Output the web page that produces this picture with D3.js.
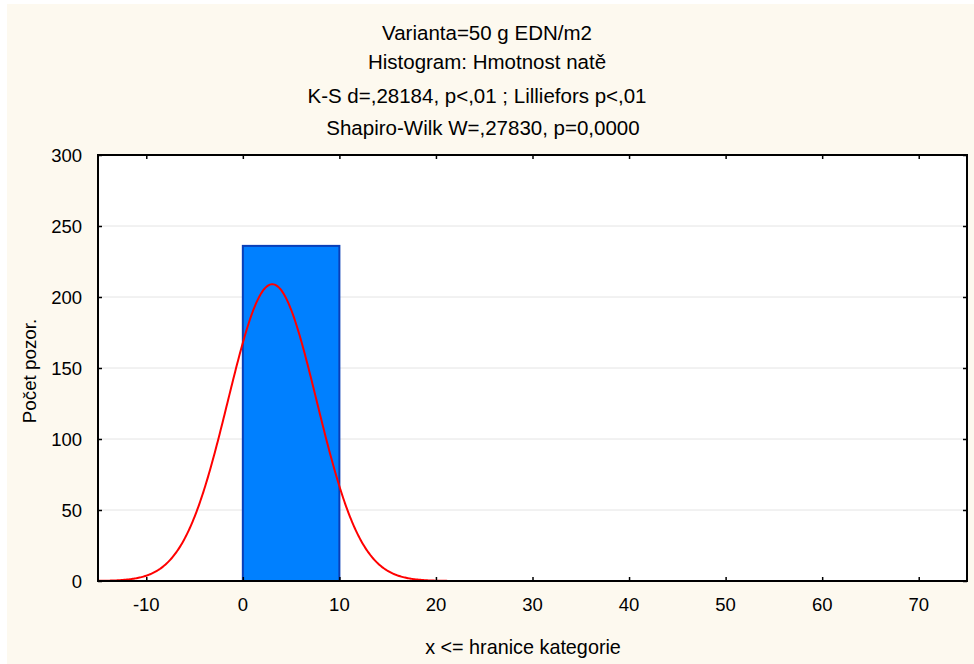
<!DOCTYPE html>
<html>
<head>
<meta charset="utf-8">
<script src="https://cdn.jsdelivr.net/npm/d3@7"></script>
<style>
  html, body { margin: 0; padding: 0; background: #ffffff; }
  svg { display: block; }
  text { font-family: "Liberation Sans", Arial, Helvetica, sans-serif; fill: #000; }
</style>
</head>
<body>
<svg id="chart" width="974" height="664"></svg>
<script>
// ---- data ----
const titleLines = [
  "Varianta=50 g EDN/m2",
  "Histogram: Hmotnost natě",
  "K-S d=,28184, p<,01 ; Lilliefors p<,01",
  "Shapiro-Wilk W=,27830, p=0,0000"
];
const binStarts = [0];          // histogram bin lower bounds (x <= upper bound)
const binEnds   = [10];
const binCounts = [236];
const xTicks = [-10, 0, 10, 20, 30, 40, 50, 60, 70];
const yTicks = [0, 50, 100, 150, 200, 250, 300];
const xDomain = [-15, 75];
const yDomain = [0, 300];
// fitted normal curve parameters (expected counts per bin)
const fitMean = 3.05;
const fitSD = 4.6;
const fitN = 241;
const binWidth = 10;
const xLabel = "x <= hranice kategorie";
const yLabel = "Počet pozor.";

// ---- layout ----
const W = 974, H = 664;
const plot = { left: 98, right: 967, top: 155, bottom: 581 };
const svg = d3.select("#chart");

svg.append("rect").attr("x", 7).attr("y", 4).attr("width", W - 7).attr("height", H - 4)
  .attr("fill", "#fdf9ef");
svg.append("rect").attr("x", plot.left).attr("y", plot.top)
  .attr("width", plot.right - plot.left).attr("height", plot.bottom - plot.top)
  .attr("fill", "#ffffff");

const x = d3.scaleLinear().domain(xDomain).range([plot.left, plot.right]);
const y = d3.scaleLinear().domain(yDomain).range([plot.bottom, plot.top]);

// grid
svg.append("g").selectAll("line").data(yTicks.filter(t => t > 0 && t < 300)).join("line")
  .attr("x1", plot.left).attr("x2", plot.right)
  .attr("y1", d => y(d)).attr("y2", d => y(d))
  .attr("stroke", "#e4e4e4").attr("stroke-width", 1);

// bars
const bins = binStarts.map((s, i) => ({ x0: s, x1: binEnds[i], n: binCounts[i] }));
svg.append("g").selectAll("rect").data(bins).join("rect")
  .attr("x", d => x(d.x0)).attr("y", d => y(d.n))
  .attr("width", d => x(d.x1) - x(d.x0)).attr("height", d => y(0) - y(d.n))
  .attr("fill", "#0080ff").attr("stroke", "#0a3fb8").attr("stroke-width", 2);

// normal curve
const xs = d3.range(xDomain[0], xDomain[1] + 0.001, 0.1);
const curve = xs.map(v => [v, fitN * binWidth / (fitSD * Math.sqrt(2 * Math.PI)) *
  Math.exp(-((v - fitMean) ** 2) / (2 * fitSD * fitSD))]);
svg.append("path").datum(curve)
  .attr("d", d3.line().x(d => x(d[0])).y(d => y(d[1])).curve(d3.curveLinear))
  .attr("fill", "none").attr("stroke", "#ff0000").attr("stroke-width", 2);

// axes (ticks inward)
const tickLen = 4;
const axisG = svg.append("g");
axisG.append("g").attr("transform", `translate(0,${plot.bottom})`)
  .call(d3.axisTop(x).tickValues(xTicks).tickSize(tickLen).tickFormat(""))
  .call(g => g.select(".domain").remove());
axisG.append("g").attr("transform", `translate(0,${plot.top})`)
  .call(d3.axisBottom(x).tickValues(xTicks).tickSize(tickLen).tickFormat(""))
  .call(g => g.select(".domain").remove());
axisG.append("g").attr("transform", `translate(${plot.left},0)`)
  .call(d3.axisRight(y).tickValues(yTicks).tickSize(tickLen).tickFormat(""))
  .call(g => g.select(".domain").remove());
axisG.append("g").attr("transform", `translate(${plot.right},0)`)
  .call(d3.axisLeft(y).tickValues(yTicks).tickSize(tickLen).tickFormat(""))
  .call(g => g.select(".domain").remove());
axisG.selectAll(".tick line").attr("stroke", "#000").attr("stroke-width", 1.5);

svg.append("rect").attr("x", plot.left).attr("y", plot.top)
  .attr("width", plot.right - plot.left).attr("height", plot.bottom - plot.top)
  .attr("fill", "none").attr("stroke", "#000").attr("stroke-width", 2);

// tick labels
const fs = 18.5;
svg.append("g").selectAll("text").data(xTicks).join("text")
  .attr("x", d => x(d)).attr("y", 611).attr("text-anchor", "middle")
  .attr("font-size", fs).text(d => d);
svg.append("g").selectAll("text").data(yTicks).join("text")
  .attr("x", 82).attr("y", d => y(d) + 6.6).attr("text-anchor", "end")
  .attr("font-size", fs).text(d => d);

// titles
const titleY = [39.5, 68.5, 102.5, 134.5];
const titleX = [487, 487, 477, 483];
svg.append("g").selectAll("text").data(titleLines).join("text")
  .attr("x", (d, i) => titleX[i]).attr("y", (d, i) => titleY[i]).attr("text-anchor", "middle")
  .attr("font-size", 20.5).text(d => d);

svg.append("text").attr("x", 523).attr("y", 654).attr("text-anchor", "middle")
  .attr("font-size", 19.8).text(xLabel);
svg.append("text").attr("transform", "translate(35.5,371) rotate(-90)")
  .attr("text-anchor", "middle").attr("font-size", 18.8).text(yLabel);
</script>
</body>
</html>
